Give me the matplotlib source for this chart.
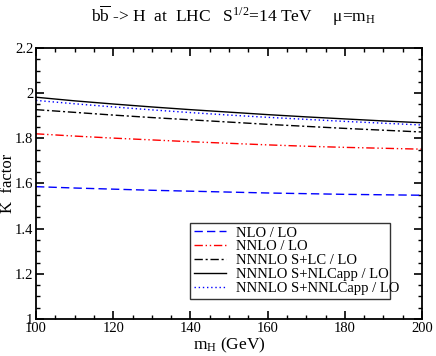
import numpy as np
import matplotlib
matplotlib.use("Agg")
import matplotlib.pyplot as plt
from matplotlib.ticker import MultipleLocator

plt.rcParams['font.family'] = ['Liberation Serif', 'DejaVu Serif']
plt.rcParams['mathtext.fontset'] = 'custom'
plt.rcParams['mathtext.rm'] = 'Liberation Serif'
plt.rcParams['mathtext.it'] = 'Liberation Serif:italic'

# masa del Higgs (GeV)
mh = np.array([100, 110, 120, 130, 140, 150, 160, 170, 180, 190, 200])

# factores K
k_nlo = np.array([1.586, 1.580, 1.575, 1.570, 1.566, 1.562, 1.558, 1.555, 1.552, 1.550, 1.548])
k_nnlo = np.array([1.820, 1.810, 1.801, 1.793, 1.785, 1.778, 1.771, 1.765, 1.760, 1.756, 1.752])
k_lc = np.array([1.927, 1.915, 1.903, 1.892, 1.882, 1.872, 1.862, 1.853, 1.844, 1.836, 1.828])
k_nlc = np.array([1.982, 1.966, 1.952, 1.939, 1.927, 1.916, 1.905, 1.895, 1.886, 1.877, 1.869])
k_nnlc = np.array([1.968, 1.953, 1.939, 1.926, 1.914, 1.903, 1.893, 1.884, 1.875, 1.867, 1.859])

etiquetas = ["NLO / LO", "NNLO / LO", "NNNLO S+LC / LO",
             "NNNLO S+NLCapp / LO", "NNNLO S+NNLCapp / LO"]

fig = plt.figure(figsize=(4.36, 3.56), dpi=100)
ax = fig.add_axes([36/436, (356-319)/356, 386/436, 271/356])

ax.plot(mh, k_nlo, color='#0000ff', lw=1.0, dashes=(6, 3), label=etiquetas[0])
ax.plot(mh, k_nnlo, color='#ff0000', lw=1.0, dashes=(6, 2, 1, 2, 1, 2), label=etiquetas[1])
ax.plot(mh, k_lc, color='black', lw=1.0, dashes=(6, 2, 1.5, 2), label=etiquetas[2])
ax.plot(mh, k_nlc, color='black', lw=1.0, label=etiquetas[3])
ax.plot(mh, k_nnlc, color='#0000ff', lw=1.0, dashes=(1, 2), label=etiquetas[4])

ax.set_xlim(100, 200)
ax.set_ylim(1, 2.2)
ax.xaxis.set_major_locator(MultipleLocator(20))
ax.xaxis.set_minor_locator(MultipleLocator(5))
ax.yaxis.set_minor_locator(MultipleLocator(0.05))
ax.set_yticks([1, 1.2, 1.4, 1.6, 1.8, 2, 2.2])
ax.set_yticklabels(["1", "1.2", "1.4", "1.6", "1.8", "2", "2.2"])
ax.tick_params(which='both', direction='in', top=True, right=True, labelsize=10.5, pad=2)
ax.tick_params(which='major', length=6, width=1.2)
ax.tick_params(which='minor', length=3, width=1)
for s in ax.spines.values():
    s.set_linewidth(1.3)

ax.set_xlabel(r"m$_\mathrm{H}$ (GeV)", fontsize=12.5, labelpad=1)
ax.set_ylabel("K  factor", fontsize=12, va='center')
ax.yaxis.set_label_coords(-0.072, 0.5)
fig.text(233/436, 1 - 16/356, r"b$\overline{\mathrm{b}}$ -> H  at  LHC   S$^{1/2}$=14 TeV     $\mathrm{\mu}$=m$_\mathrm{H}$",
         ha='center', va='center', fontsize=12.5)

leg = ax.legend(loc='lower left', bbox_to_anchor=(0.40, 0.074, 0.517, 0.28), mode='expand',
                fontsize=10.5, frameon=True, fancybox=False, edgecolor='black',
                handlelength=2.2, borderaxespad=0, labelspacing=0.05, borderpad=0.25,
                handletextpad=0.7)
leg.get_frame().set_linewidth(1.0)

fig.savefig("out.png", dpi=100)
